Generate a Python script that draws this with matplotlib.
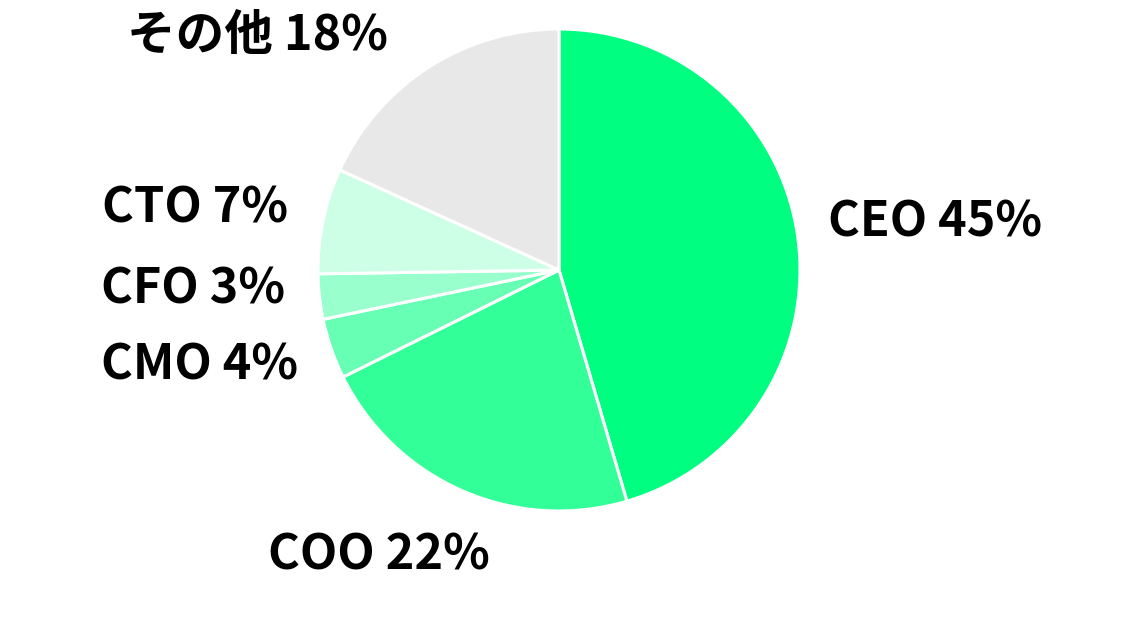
import matplotlib
matplotlib.use("Agg")
import matplotlib.pyplot as plt

plt.rcParams['font.family'] = ['Noto Sans CJK JP', 'DejaVu Sans']

labels = ["CEO", "COO", "CMO", "CFO", "CTO", "その他"]
values = [45, 22, 4, 3, 7, 18]
colors = ["#00FF80", "#33FF99", "#66FFB3", "#99FFCC", "#CCFFE6", "#E8E8E8"]

# label anchor positions (data units, pie radius = 1) and alignment
label_pos = [(1.116, 0.199, "left"), (-0.286, -1.183, "right"), (-1.083, -0.394, "right"),
             (-1.137, -0.077, "right"), (-1.124, 0.257, "right"), (-0.710, 0.971, "right")]

W, H = 1138, 628
cx, cy, R = 559, 270, 241
fig = plt.figure(figsize=(W / 100, H / 100), dpi=100)
ax = fig.add_axes([0, 0, 1, 1])
ax.pie(values, colors=colors, startangle=90, counterclock=False, radius=1,
       wedgeprops=dict(edgecolor="white", linewidth=2.2))
ax.set_xlim(-cx / R, (W - cx) / R)
ax.set_ylim(-(H - cy) / R, cy / R)
ax.set_aspect("auto")
ax.axis("off")

for lab, v, (x, y, ha) in zip(labels, values, label_pos):
    ax.text(x, y, f"{lab} {v}%", ha=ha, va="center", fontsize=35, fontweight="bold", color="black")

fig.savefig("out.png", dpi=100)
